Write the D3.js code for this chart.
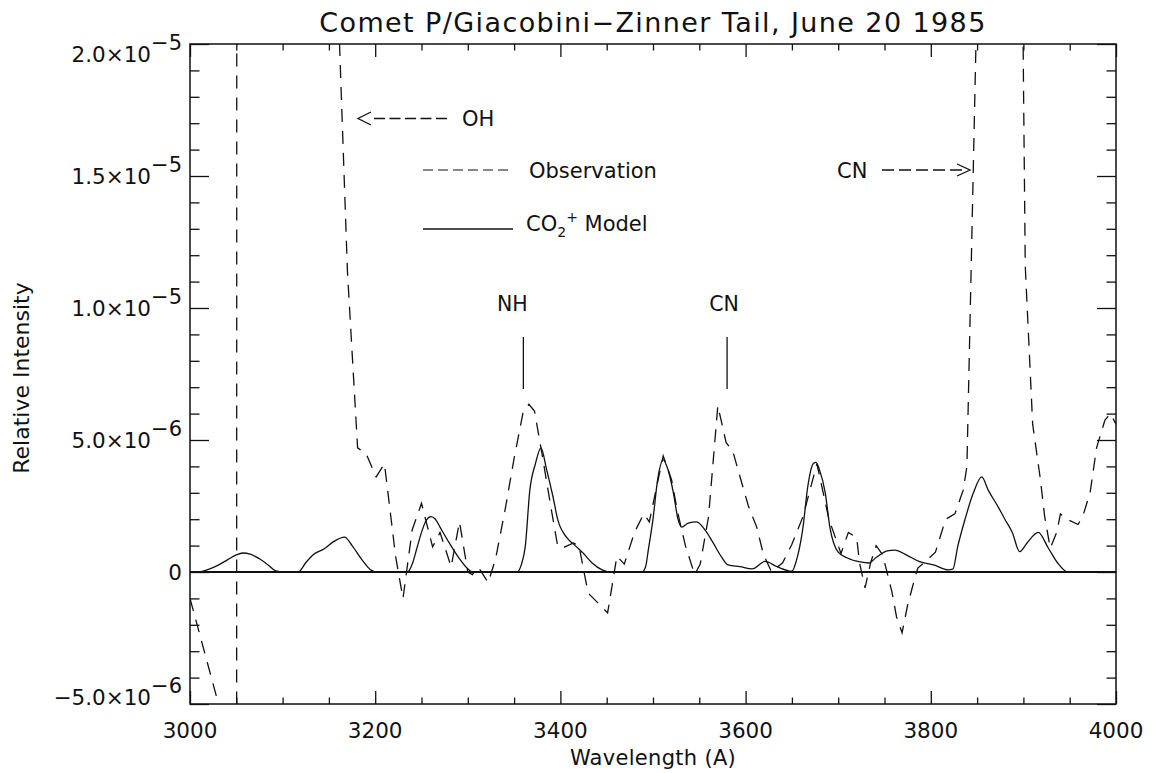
<!DOCTYPE html>
<html>
<head>
<meta charset="utf-8">
<script src="https://cdn.jsdelivr.net/npm/d3@7"></script>
<style>
  html, body { margin: 0; padding: 0; background: #fff; }
  svg text { font-family: "DejaVu Sans ExtraLight", "DejaVu Sans", sans-serif; fill: #111; }
</style>
</head>
<body>
<svg id="chart" width="1153" height="773"></svg>
<script>
// ---------------- DATA ----------------
// Observation (dashed): wavelength (Angstrom) and intensity in units of 1e-6
const obsWavelength = [3000,3010,3020,3030,3040,3050,3051,3060,3070,3080,3090,3100,3110,3120,3130,3140,3150,3160,3170,3181,3190,3201,3210,3222,3230,3240,3250,3262,3270,3282,3291,3300,3305,3311,3322,3330,3340,3350,3360,3366,3372,3380,3390,3397,3402,3414,3420,3430,3440,3451,3461,3469,3480,3490,3496,3511,3520,3527,3535,3545,3551,3560,3570,3579,3586,3594,3603,3612,3619,3628,3640,3650,3662,3677,3690,3700,3703,3711,3720,3723,3729,3735,3741,3748,3758,3763,3769,3775,3783,3786,3796,3805,3816,3826,3835,3839,3850,3860,3870,3880,3890,3895,3902,3910,3918,3923,3929,3936,3940,3947,3959,3964,3972,3979,3988,3994,4000];
const obsIntensity = [-1.0,-2.3,-3.6,-4.9,-6.2,-80,120,150,200,300,350,300,200,120,80,55,35,21.5,11.4,4.7,4.5,3.6,4.1,0.6,-1.0,1.6,2.6,0.95,1.5,0.2,1.9,0.0,-0.1,0.2,-0.4,0.5,2.3,4.3,6.1,6.35,6.1,4.5,2.4,1.0,0.9,1.1,1.0,-0.8,-1.15,-1.55,0.6,0.3,1.5,2.2,1.9,4.4,3.5,2.2,1.0,-0.1,0.3,2.1,6.3,4.9,4.6,3.6,2.5,1.7,0.7,0.0,0.35,1.05,2.1,4.1,2.0,1.0,0.7,1.5,1.3,0.35,-0.6,0.35,1.0,0.65,-0.75,-1.7,-2.3,-1.25,-0.2,0.15,0.45,0.75,2.0,2.2,3.1,4.0,22,80,200,300,150,37,11.6,5.6,3.6,2.1,0.9,1.5,2.2,2.0,1.8,2.1,3.0,4.7,5.75,6.0,5.6];

// CO2+ model (solid): wavelength and intensity in units of 1e-6
const modelWavelength = [3000,3010,3020,3030,3040,3050,3057,3065,3075,3085,3092,3100,3117,3125,3133,3145,3155,3167,3175,3186,3196,3202,3235,3240,3245,3250,3255,3260,3265,3270,3280,3290,3300,3305,3353,3358,3362,3367,3373,3379,3385,3392,3397,3407,3416,3425,3434,3445,3453,3488,3492,3495,3500,3505,3511,3516,3522,3527,3531,3538,3547,3558,3565,3574,3581,3594,3607,3621,3634,3650,3655,3662,3667,3673,3676,3680,3686,3691,3700,3710,3724,3733,3741,3753,3761,3774,3788,3803,3819,3824,3829,3837,3846,3855,3862,3873,3880,3888,3896,3904,3916,3927,3937,3948,4000];
const modelIntensity = [0,0,0.1,0.25,0.45,0.65,0.72,0.68,0.5,0.25,0.05,0,0,0.35,0.65,0.88,1.15,1.32,1.0,0.45,0.06,0,0,0.3,0.9,1.5,1.95,2.1,2.0,1.7,1.1,0.55,0.12,0,0,0.3,0.95,3.1,4.1,4.7,3.9,2.85,2.0,1.3,1.0,0.7,0.35,0.08,0,0,0.2,0.85,2.0,3.5,4.25,3.9,3.0,2.0,1.7,1.85,1.9,1.5,1.1,0.57,0.27,0.2,0.12,0.4,0.2,0.03,0.45,1.7,3.2,4.1,4.15,3.85,3.0,1.7,0.75,0.53,0.38,0.34,0.55,0.8,0.83,0.64,0.39,0.27,0.08,0.12,0.95,2.0,3.0,3.6,3.1,2.45,2.0,1.5,0.77,1.1,1.5,0.9,0.34,0,0];

const unit = 1e-6;
const xMajorTicks = [3000, 3200, 3400, 3600, 3800, 4000];
const xMinorStep = 50;
const yMajorTicks = [-5e-6, 0, 5e-6, 1e-5, 1.5e-5, 2e-5];
const yTickMantissa = ["\u22125.0", "0", "5.0", "1.0", "1.5", "2.0"];
const yTickExponent = ["\u22126", "", "\u22126", "\u22125", "\u22125", "\u22125"];
const yMinorStep = 1e-6;

const titleText = "Comet P/Giacobini\u2212Zinner Tail, June 20 1985";
const xTitle = "Wavelength (A)";
const yTitle = "Relative Intensity";
const bandLabels = ["NH", "CN"];
const bandWavelengths = [3360, 3580];

// ---------------- LAYOUT ----------------
const svg = d3.select("#chart");
const L = 190, R = 1116, T = 44, B = 704;
const x = d3.scaleLinear().domain([3000, 4000]).range([L, R]);
const y = d3.scaleLinear().domain([-5e-6, 2e-5]).range([B, T]);

svg.append("defs").append("clipPath").attr("id", "plotclip")
  .append("rect").attr("x", L).attr("y", T).attr("width", R - L).attr("height", B - T);

// minor & major ticks
const xMinor = d3.range(3000, 4000 + 1, xMinorStep).filter(v => !xMajorTicks.includes(v));
const yMinor = d3.range(-5, 20.5, 1).map(v => v * yMinorStep).filter(v => !yMajorTicks.some(m => Math.abs(m - v) < 1e-9));

function tickAxis(axisFn, scale, values, size, transform) {
  const g = svg.append("g").attr("transform", transform)
    .call(axisFn(scale).tickValues(values).tickSize(size).tickFormat(""));
  g.select(".domain").remove();
  g.selectAll(".tick line").attr("stroke", "#111").attr("stroke-width", 1.3);
  return g;
}
tickAxis(d3.axisBottom, x, xMajorTicks, -13, `translate(0,${B})`);
tickAxis(d3.axisBottom, x, xMinor, -6.5, `translate(0,${B})`);
tickAxis(d3.axisTop, x, xMajorTicks, -13, `translate(0,${T})`);
tickAxis(d3.axisTop, x, xMinor, -6.5, `translate(0,${T})`);
tickAxis(d3.axisLeft, y, yMajorTicks, -19, `translate(${L},0)`);
tickAxis(d3.axisLeft, y, yMinor, -9.5, `translate(${L},0)`);
tickAxis(d3.axisRight, y, yMajorTicks, -19, `translate(${R},0)`);
tickAxis(d3.axisRight, y, yMinor, -9.5, `translate(${R},0)`);

// frame
svg.append("rect").attr("x", L).attr("y", T).attr("width", R - L).attr("height", B - T)
  .attr("fill", "none").attr("stroke", "#111").attr("stroke-width", 1.5);

// x tick labels
svg.append("g").selectAll("text").data(xMajorTicks).join("text")
  .attr("x", d => x(d)).attr("y", 738).attr("text-anchor", "middle")
  .attr("font-size", 21.5).text(d => d);

// y tick labels with superscript exponents
const yl = svg.append("g").selectAll("text").data(yMajorTicks).join("text")
  .attr("x", 182)
  .attr("y", d => Math.min(Math.max(y(d), T + 10), B - 7) + 7.5)
  .attr("text-anchor", "end").attr("font-size", 21.5);
yl.each(function(d, i) {
  const t = d3.select(this);
  if (yTickExponent[i] === "") { t.text(yTickMantissa[i]); return; }
  t.append("tspan").text(yTickMantissa[i] + "\u00d710");
  t.append("tspan").attr("dy", -12).attr("font-size", 21).text(yTickExponent[i]);
});

// axis titles
svg.append("text").attr("x", (L + R) / 2).attr("y", 765).attr("text-anchor", "middle")
  .attr("font-size", 21).attr("letter-spacing", 0.3).text(xTitle);
svg.append("text").attr("transform", "translate(29,378) rotate(-90)").attr("text-anchor", "middle")
  .attr("font-size", 22).text(yTitle);
svg.append("text").attr("x", 653).attr("y", 32).attr("text-anchor", "middle")
  .attr("font-size", 27).attr("letter-spacing", 1.4).text(titleText);

// data lines
const plot = svg.append("g").attr("clip-path", "url(#plotclip)");
plot.append("line").attr("x1", L).attr("x2", R).attr("y1", y(0)).attr("y2", y(0))
  .attr("stroke", "#111").attr("stroke-width", 2);

const modelData = modelWavelength.map((w, i) => [w, modelIntensity[i] * unit]);
const obsData = obsWavelength.map((w, i) => [w, obsIntensity[i] * unit]);

plot.append("path").datum(modelData)
  .attr("d", d3.line().x(d => x(d[0])).y(d => y(d[1])).curve(d3.curveMonotoneX))
  .attr("fill", "none").attr("stroke", "#111").attr("stroke-width", 1.3);

plot.append("path").datum(obsData)
  .attr("d", d3.line().x(d => x(d[0])).y(d => y(d[1])))
  .attr("fill", "none").attr("stroke", "#111").attr("stroke-width", 1.3)
  .attr("stroke-dasharray", "13,9");

// band markers
bandLabels.forEach((lab, i) => {
  const bx = x(bandWavelengths[i]);
  svg.append("line").attr("x1", bx).attr("x2", bx).attr("y1", 337).attr("y2", 389)
    .attr("stroke", "#111").attr("stroke-width", 1.3);
  svg.append("text").attr("x", bx - (i === 0 ? 11 : 3)).attr("y", 311)
    .attr("text-anchor", "middle").attr("font-size", 20.5).text(lab);
});

// OH arrow
svg.append("path").attr("d", "M371,112 L358,118.5 L371,125")
  .attr("fill", "none").attr("stroke", "#111").attr("stroke-width", 1.3);
svg.append("line").attr("x1", 374).attr("x2", 448).attr("y1", 118.5).attr("y2", 118.5)
  .attr("stroke", "#111").attr("stroke-width", 1.3).attr("stroke-dasharray", "11,4.5");
svg.append("text").attr("x", 462).attr("y", 126).attr("font-size", 21).text("OH");

// CN arrow
svg.append("text").attr("x", 837).attr("y", 178).attr("font-size", 21).text("CN");
svg.append("line").attr("x1", 882).attr("x2", 966).attr("y1", 170).attr("y2", 170)
  .attr("stroke", "#111").attr("stroke-width", 1.3).attr("stroke-dasharray", "12,5");
svg.append("path").attr("d", "M957,164 L970,170 L957,176")
  .attr("fill", "none").attr("stroke", "#111").attr("stroke-width", 1.3);

// legend
svg.append("line").attr("x1", 423).attr("x2", 513).attr("y1", 170).attr("y2", 170)
  .attr("stroke", "#111").attr("stroke-width", 1.2).attr("stroke-dasharray", "10,5");
svg.append("text").attr("x", 529).attr("y", 178).attr("font-size", 21).text("Observation");
svg.append("line").attr("x1", 423).attr("x2", 513).attr("y1", 229).attr("y2", 229)
  .attr("stroke", "#111").attr("stroke-width", 1.3);
const lt = svg.append("text").attr("x", 526).attr("y", 231).attr("font-size", 21);
lt.append("tspan").text("CO");
lt.append("tspan").attr("font-size", 14).attr("dy", 6).text("2");
lt.append("tspan").attr("font-size", 14).attr("dy", -15).text("+");
lt.append("tspan").attr("dy", 9).text(" Model");
</script>
</body>
</html>
